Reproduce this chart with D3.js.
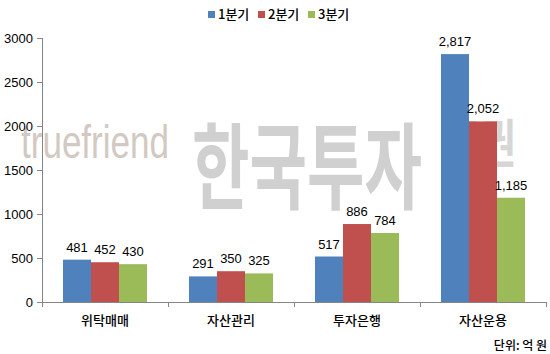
<!DOCTYPE html>
<html>
<head>
<meta charset="utf-8">
<script src="https://cdn.jsdelivr.net/npm/d3@7"></script>
<style>
  body { margin: 0; background: #fff; }
  svg { display: block; }
</style>
</head>
<body>
<svg id="chart" width="550" height="354"></svg>
<script>
// 데이터
const categories = ["위탁매매", "자산관리", "투자은행", "자산운용"];
const seriesNames = ["1분기", "2분기", "3분기"];
const q1 = [481, 291, 517, 2817];
const q2 = [452, 350, 886, 2052];
const q3 = [430, 325, 784, 1185];
const yTicks = [0, 500, 1000, 1500, 2000, 2500, 3000];
const colors = ["#4F81BD", "#C0504D", "#9BBB59"];

const series = [q1, q2, q3];
const W = 550, H = 354;
const margin = {top: 38, right: 4, bottom: 52, left: 42};
const innerW = W - margin.left - margin.right;
const innerH = H - margin.top - margin.bottom;

const svg = d3.select("#chart");
const numFont = "'Liberation Sans', Arial, sans-serif";
const korFont = "'Noto Sans CJK KR', 'Noto Sans', sans-serif";

const x = d3.scaleBand().domain(categories).range([0, innerW]).paddingInner(0).paddingOuter(0);
const xs = d3.scaleBand().domain(d3.range(series.length)).range([x.bandwidth() / 6, x.bandwidth() * 5 / 6]);
const y = d3.scaleLinear().domain([0, 3000]).range([innerH, 0]);

// 워터마크 (막대 뒤)
const wm = svg.append("g").attr("pointer-events", "none");
wm.append("text")
  .attr("x", 21).attr("y", 158)
  .attr("textLength", 148).attr("lengthAdjust", "spacingAndGlyphs")
  .attr("font-family", numFont).attr("font-size", 46)
  .attr("fill", "#d2c9c3")
  .text("truefriend");
wm.append("text")
  .attr("x", 192).attr("y", 202)
  .attr("textLength", 230).attr("lengthAdjust", "spacingAndGlyphs")
  .attr("font-family", korFont).attr("font-weight", 700).attr("font-size", 94)
  .attr("fill", "#d0d0d0")
  .text("한국투자");
wm.append("text")
  .attr("x", 446).attr("y", 163)
  .attr("textLength", 70).attr("lengthAdjust", "spacingAndGlyphs")
  .attr("font-family", korFont).attr("font-weight", 700).attr("font-size", 52)
  .attr("fill", "#d6d6d6")
  .text("증권");

const g = svg.append("g").attr("transform", `translate(${margin.left},${margin.top})`);

// 막대
const groups = g.selectAll("g.grp")
  .data(categories)
  .join("g")
  .attr("class", "grp")
  .attr("transform", d => `translate(${x(d)},0)`);

groups.selectAll("rect")
  .data((d, i) => series.map((s, j) => ({j, v: s[i]})))
  .join("rect")
  .attr("x", d => xs(d.j))
  .attr("width", xs.bandwidth())
  .attr("y", d => y(d.v))
  .attr("height", d => innerH - y(d.v))
  .attr("fill", d => colors[d.j]);

groups.selectAll("text.val")
  .data((d, i) => series.map((s, j) => ({j, v: s[i]})))
  .join("text")
  .attr("class", "val")
  .attr("x", d => xs(d.j) + xs.bandwidth() / 2)
  .attr("y", d => y(d.v) - 8)
  .attr("text-anchor", "middle")
  .attr("font-family", numFont).attr("font-size", 13)
  .attr("fill", "#000")
  .text(d => d3.format(",")(d.v));

// 축
const axisColor = "#868686";
g.append("line").attr("x1", 0.5).attr("x2", 0.5).attr("y1", 0).attr("y2", innerH).attr("stroke", axisColor);
g.append("line").attr("x1", 0).attr("x2", innerW).attr("y1", innerH + 0.5).attr("y2", innerH + 0.5).attr("stroke", axisColor);

g.selectAll("line.yt").data(yTicks).join("line")
  .attr("x1", -5).attr("x2", 0)
  .attr("y1", d => Math.round(y(d)) + 0.5).attr("y2", d => Math.round(y(d)) + 0.5)
  .attr("stroke", axisColor);
g.selectAll("text.yl").data(yTicks).join("text")
  .attr("x", -9).attr("y", d => y(d)).attr("dy", "0.35em")
  .attr("text-anchor", "end")
  .attr("font-family", numFont).attr("font-size", 13)
  .text(d => d);

const bounds = categories.map(c => x(c)).concat([innerW]);
g.selectAll("line.xt").data(bounds).join("line")
  .attr("x1", d => Math.round(d) + 0.5).attr("x2", d => Math.round(d) + 0.5)
  .attr("y1", innerH).attr("y2", innerH + 5)
  .attr("stroke", axisColor);
g.selectAll("text.xl").data(categories).join("text")
  .attr("x", d => x(d) + x.bandwidth() / 2).attr("y", innerH + 23)
  .attr("text-anchor", "middle")
  .attr("font-family", korFont).attr("font-size", 13).attr("font-weight", 500)
  .text(d => d);

// 범례
const legend = svg.append("g").attr("transform", "translate(208,0)");
const li = legend.selectAll("g").data(seriesNames).join("g")
  .attr("transform", (d, i) => `translate(${i * 50},0)`);
li.append("rect").attr("x", 0).attr("y", 11).attr("width", 7).attr("height", 7)
  .attr("fill", (d, i) => colors[i]);
li.append("text").attr("x", 10).attr("y", 19)
  .attr("font-family", korFont).attr("font-size", 13).attr("font-weight", 500)
  .text(d => d);

// 단위
svg.append("text").attr("x", 547).attr("y", 350)
  .attr("text-anchor", "end")
  .attr("font-family", korFont).attr("font-size", 12).attr("font-weight", 500)
  .text("단위: 억 원");
</script>
</body>
</html>
